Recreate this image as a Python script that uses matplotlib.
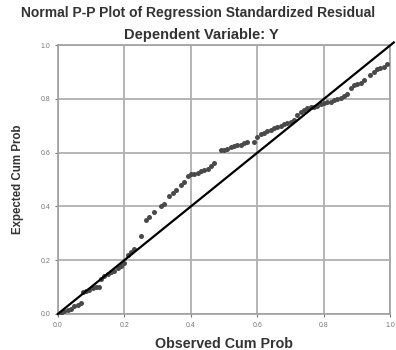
import numpy as np
import matplotlib.pyplot as plt

plt.rcParams['font.family'] = ['Liberation Sans', 'DejaVu Sans']

# observed / expected cumulative probabilities
obs = [0.01, 0.02, 0.03, 0.04, 0.05, 0.06, 0.07,
       0.075, 0.085, 0.095, 0.105, 0.115, 0.125,
       0.13, 0.14, 0.15, 0.16, 0.17, 0.18, 0.19, 0.20,
       0.21, 0.22, 0.23, 0.25,
       0.265, 0.275, 0.29, 0.31, 0.32, 0.335, 0.345, 0.355, 0.37, 0.38,
       0.39, 0.40, 0.41, 0.42, 0.43, 0.44, 0.45, 0.46, 0.47,
       0.49, 0.50, 0.51, 0.52, 0.53, 0.54, 0.55, 0.56, 0.57, 0.59,
       0.60, 0.61, 0.62, 0.63, 0.64, 0.65, 0.66, 0.67, 0.68, 0.69, 0.70, 0.71,
       0.72, 0.73, 0.74, 0.75, 0.76, 0.77, 0.78, 0.79,
       0.80, 0.81, 0.82, 0.83, 0.84, 0.85, 0.86, 0.87,
       0.88, 0.89, 0.90, 0.91, 0.92,
       0.94, 0.95, 0.96, 0.97, 0.98, 0.99]
exp = [0.005, 0.01, 0.015, 0.02, 0.03, 0.035, 0.04,
       0.08, 0.085, 0.09, 0.095, 0.10, 0.10,
       0.13, 0.14, 0.15, 0.155, 0.16, 0.17, 0.18, 0.19,
       0.22, 0.23, 0.24, 0.29,
       0.35, 0.36, 0.38, 0.40, 0.41, 0.44, 0.45, 0.46, 0.48, 0.49,
       0.515, 0.52, 0.52, 0.525, 0.53, 0.535, 0.54, 0.55, 0.56,
       0.61, 0.61, 0.615, 0.62, 0.625, 0.63, 0.63, 0.635, 0.64, 0.64,
       0.66, 0.67, 0.675, 0.68, 0.685, 0.69, 0.695, 0.70, 0.705, 0.71, 0.715, 0.72,
       0.74, 0.75, 0.76, 0.765, 0.77, 0.77, 0.775, 0.78,
       0.785, 0.79, 0.79, 0.795, 0.80, 0.805, 0.81, 0.82,
       0.84, 0.85, 0.855, 0.86, 0.87,
       0.89, 0.90, 0.91, 0.915, 0.92, 0.93]
ticks = [0.0, 0.2, 0.4, 0.6, 0.8, 1.0]

fig = plt.figure(figsize=(3.96, 3.5), dpi=100)
ax = fig.add_axes([0.146, 0.103, 0.84, 0.768])

ax.scatter(obs, exp, s=13, color='#4a4a4a', zorder=3, linewidths=0)
ax.plot([0, 1.01], [0, 1.01], color='black', lw=1.6, zorder=4, clip_on=False)

ax.set_xlim(0, 1)
ax.set_ylim(0, 1)
ax.set_xticks(ticks)
ax.set_yticks(ticks)
ax.set_xticklabels(['%.1f' % t for t in ticks])
ax.set_yticklabels(['%.1f' % t for t in ticks])
ax.tick_params(labelsize=5, colors='#777777', length=2, width=0.8)
ax.grid(True, color='#b0b0b0', lw=1.3)
ax.set_axisbelow(True)
for s in ax.spines.values():
    s.set_color('#a0a0a0')
    s.set_linewidth(1.2)

ax.set_xlabel('Observed Cum Prob', fontsize=10.3, fontweight='bold', color='#333333', labelpad=6)
ax.set_ylabel('Expected Cum Prob', fontsize=8.3, fontweight='bold', color='#333333', labelpad=12)

fig.text(0.5, 0.962, 'Normal P-P Plot of Regression Standardized Residual',
         ha='center', va='center', fontsize=10, fontweight='bold', color='#333333')
fig.text(0.508, 0.9, 'Dependent Variable: Y',
         ha='center', va='center', fontsize=10.5, fontweight='bold', color='#333333')

plt.savefig('out.png', dpi=100)
